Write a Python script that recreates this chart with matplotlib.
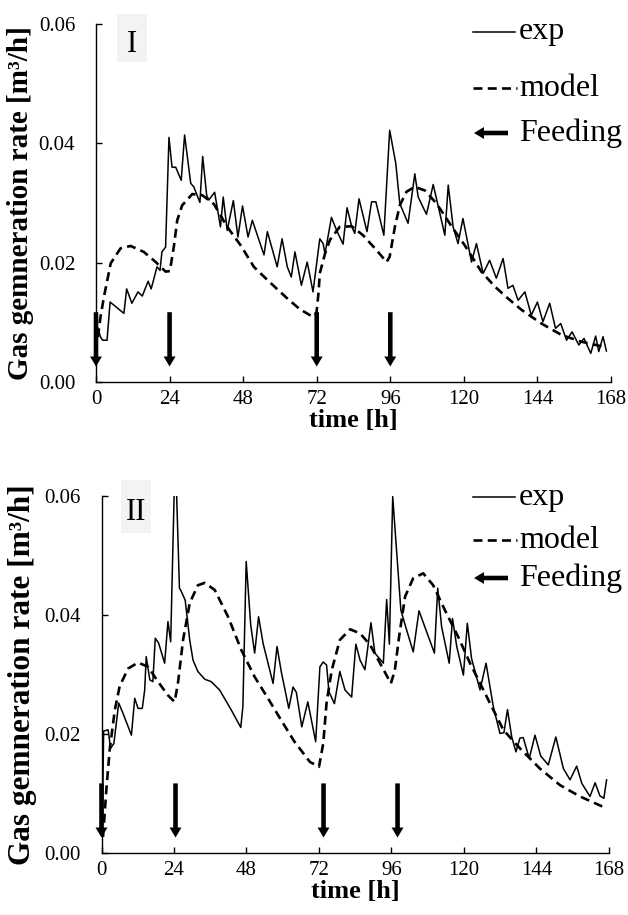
import matplotlib
matplotlib.use("Agg")
import matplotlib.pyplot as plt
from matplotlib.lines import Line2D
from matplotlib.patches import Rectangle, FancyArrowPatch
from matplotlib.ticker import FormatStrFormatter

plt.rcParams['font.family'] = 'Liberation Serif'

# ---- data ----
t_exp_1 = [0.3, 1.5, 2.2, 3.6, 4.6, 9.1, 10.0, 11.7, 13.7, 15.1, 17.0, 18.0, 19.9, 20.9, 21.5, 22.7,
           23.8, 24.8, 26.0, 27.8, 28.9, 30.9, 31.9, 33.9, 34.8, 36.1, 36.8, 38.7, 40.6, 41.5, 42.8,
           44.8, 46.3, 47.8, 49.6, 51.0, 54.8, 55.9, 59.1, 60.7, 62.4, 63.7, 64.9, 67.0, 68.9, 70.8,
           73.0, 74.1, 74.7, 76.8, 78.5, 80.6, 81.9, 83.4, 84.4, 85.8, 88.4, 89.9, 91.3, 93.9, 95.8,
           97.8, 99.1, 101.8, 104.0, 105.1, 107.8, 110.0, 113.8, 114.9, 116.5, 118.1, 119.7, 122.5,
           124.1, 126.3, 128.4, 130.6, 132.8, 134.4, 136.0, 137.7, 139.9, 142.0, 144.0, 145.8, 148.0,
           149.9, 151.6, 153.5, 155.3, 157.5, 159.2, 161.4, 163.0, 164.0, 165.4, 166.5]
exp_1 = [0.0095, 0.0075, 0.007, 0.007, 0.0134, 0.0115, 0.0156, 0.0132, 0.0151, 0.0144, 0.0169, 0.0156,
         0.0193, 0.0187, 0.0218, 0.0226, 0.041, 0.036, 0.036, 0.0338, 0.0414, 0.0333, 0.0327, 0.0301,
         0.0378, 0.0313, 0.0305, 0.0318, 0.026, 0.031, 0.0254, 0.0304, 0.0243, 0.0295, 0.0243, 0.0271,
         0.0213, 0.0252, 0.0193, 0.024, 0.0193, 0.0176, 0.0218, 0.0162, 0.0201, 0.0151, 0.024, 0.0232,
         0.0215, 0.0276, 0.0254, 0.0231, 0.0292, 0.0261, 0.0249, 0.0307, 0.0252, 0.0302, 0.0302, 0.0246,
         0.0422, 0.0366, 0.0299, 0.0266, 0.0349, 0.031, 0.0281, 0.0331, 0.0246, 0.033, 0.026, 0.0232,
         0.0274, 0.0201, 0.0232, 0.0182, 0.0204, 0.0174, 0.0207, 0.0157, 0.0162, 0.0137, 0.0151, 0.0112,
         0.0134, 0.0101, 0.0132, 0.009, 0.0098, 0.007, 0.0084, 0.0062, 0.0073, 0.0048, 0.0077, 0.0051,
         0.0076, 0.0052]

t_mod_1 = [0.6, 1.5, 2.6, 4.8, 8.0, 11.3, 15.6, 19.5, 22.7, 24.1, 25.4, 26.5, 28.1, 31.4, 34.7, 38.5,
           42.8, 47.2, 51.5, 55.9, 62.4, 66.5, 70.8, 71.9, 72.6, 73.0, 74.7, 76.3, 79.5, 83.4, 87.1,
           91.5, 94.8, 95.8, 97.5, 99.1, 101.3, 104.0, 107.3, 111.1, 116.5, 120.3, 125.7, 130.1, 134.4,
           138.8, 145.3, 151.8, 158.0, 166.5]
mod_1 = [0.0075, 0.011, 0.0143, 0.0199, 0.0224, 0.0228, 0.0218, 0.0201, 0.0185, 0.0186, 0.0227, 0.0271,
         0.0296, 0.0315, 0.0313, 0.0298, 0.026, 0.0229, 0.0193, 0.0171, 0.014, 0.0122, 0.0109, 0.0115,
         0.015, 0.0182, 0.0215, 0.0238, 0.026, 0.0261, 0.0246, 0.0221, 0.0201, 0.021, 0.026, 0.0296,
         0.0319, 0.0327, 0.0321, 0.0299, 0.0257, 0.0229, 0.0185, 0.016, 0.014, 0.0121, 0.0098, 0.0079,
         0.0068, 0.0058]

t_exp_2 = [0.3, 0.7, 2.2, 3.0, 4.1, 4.9, 5.7, 7.1, 9.9, 11.0, 12.1, 13.5, 14.3, 14.8, 16.0, 17.0, 17.8,
           18.9, 20.9, 22.0, 22.9, 24.4, 25.8, 26.2, 27.7, 29.2, 30.3, 31.9, 34.2, 36.3, 39.1, 43.0,
           46.1, 46.8, 47.9, 49.4, 50.7, 52.0, 53.5, 56.8, 58.1, 59.5, 62.0, 63.4, 64.5, 66.3, 68.3,
           70.9, 72.3, 73.4, 74.5, 75.3, 77.1, 78.9, 80.6, 82.8, 84.2, 85.6, 87.2, 89.2, 90.5, 93.3,
           94.4, 95.3, 96.4, 99.1, 101.0, 103.2, 105.1, 110.2, 111.3, 112.6, 115.1, 116.2, 117.6,
           119.8, 121.1, 122.5, 125.3, 127.3, 129.7, 131.9, 133.2, 134.4, 135.8, 137.2, 138.5, 139.6,
           141.6, 143.5, 145.4, 147.9, 150.4, 152.9, 155.1, 157.3, 159.0, 161.7, 163.4, 165.0, 166.3,
           167.2]
exp_2 = [0.004, 0.0205, 0.0207, 0.0176, 0.0184, 0.0218, 0.0252, 0.0235, 0.0198, 0.026, 0.0243, 0.0243,
         0.0274, 0.033, 0.0291, 0.0288, 0.0361, 0.0353, 0.0319, 0.0389, 0.0355, 0.068, 0.0445, 0.0442,
         0.0425, 0.0358, 0.0324, 0.0305, 0.0292, 0.0288, 0.0274, 0.024, 0.0211, 0.0246, 0.049, 0.0383,
         0.0336, 0.0397, 0.0352, 0.0285, 0.0347, 0.0305, 0.0243, 0.0279, 0.027, 0.0212, 0.0254, 0.0187,
         0.0313, 0.0321, 0.0316, 0.0271, 0.0251, 0.0305, 0.0274, 0.0262, 0.0351, 0.0324, 0.0308, 0.0387,
         0.0336, 0.0319, 0.0426, 0.0351, 0.0599, 0.0408, 0.0375, 0.0338, 0.0407, 0.0336, 0.0445, 0.038,
         0.0319, 0.0394, 0.0347, 0.0299, 0.0386, 0.0327, 0.0274, 0.0319, 0.0246, 0.0201, 0.0202, 0.0241,
         0.0195, 0.017, 0.0193, 0.0194, 0.0159, 0.0198, 0.0163, 0.0148, 0.0195, 0.0142, 0.0123, 0.0146,
         0.0117, 0.0095, 0.0118, 0.0096, 0.0092, 0.0123]

t_mod_2 = [0.5, 1.6, 2.7, 4.4, 6.0, 8.8, 12.1, 15.4, 18.7, 22.0, 24.2, 25.3, 27.0, 29.2, 31.9, 34.2,
           37.5, 41.9, 46.3, 50.7, 55.1, 59.5, 63.9, 65.1, 69.0, 72.0, 73.4, 74.5, 76.2, 78.9, 82.3,
           85.6, 88.9, 92.2, 95.8, 97.1, 98.5, 100.5, 103.2, 106.5, 109.8, 113.7, 118.1, 122.0, 127.5,
           133.0, 138.5, 145.1, 151.8, 158.4, 167.2]
mod_2 = [0.0027, 0.0106, 0.0173, 0.024, 0.028, 0.031, 0.032, 0.0313, 0.0288, 0.0265, 0.0254, 0.0285,
         0.0358, 0.042, 0.045, 0.0454, 0.0442, 0.0397, 0.0341, 0.0296, 0.026, 0.0223, 0.0187, 0.0179,
         0.0153, 0.0145, 0.0184, 0.0252, 0.0307, 0.0358, 0.0376, 0.0369, 0.035, 0.0319, 0.0285, 0.0307,
         0.0363, 0.0431, 0.0462, 0.047, 0.045, 0.0408, 0.0363, 0.0319, 0.0263, 0.0207, 0.0176, 0.0142,
         0.0114, 0.0095, 0.0075]

feed_1 = [0, 24, 72, 96]
feed_2 = [0, 24.5, 73.5, 98]
panel_names = ["I", "II"]
xticks = [0, 24, 48, 72, 96, 120, 144, 168]
yticks = [0.00, 0.02, 0.04, 0.06]

W, H = 628, 915


def fx(px):
    return px / W


def fy(py):
    return 1 - py / H


fig = plt.figure(figsize=(6.28, 9.15), dpi=100)
ax1 = fig.add_axes([fx(96), fy(382), fx(611) - fx(96), fy(24) - fy(382)])
ax2 = fig.add_axes([fx(101.5), fy(853), fx(609) - fx(101.5), fy(496) - fy(853)])

arrow_style = 'simple,head_length=0.72,head_width=0.86,tail_width=0.33'

panels = [
    (ax1, t_exp_1, exp_1, t_mod_1, mod_1, feed_1, (117, 14, 30, 48), 45, [32, 88, 133], 21, 3),
    (ax2, t_exp_2, exp_2, t_mod_2, mod_2, feed_2, (121, 480, 30, 53), 513, [497, 540, 578], 22.5, 5),
]

for i, (ax, te, ye, tm, ym, feed, box, name_y, leg_y, ylab_size, ylab_pad) in enumerate(panels):
    ax.plot(te, ye, color='black', lw=1.1)
    ax.plot(tm, ym, color='black', lw=1.9, dashes=(3.4, 2.0))
    for t in feed:
        ax.annotate("", xy=(t, 0.0026), xytext=(t, 0.0117),
                    arrowprops=dict(arrowstyle=arrow_style, mutation_scale=10, color='black',
                                    lw=0, shrinkA=0, shrinkB=0),
                    annotation_clip=False)
    ax.set_xlim(0, 168)
    ax.set_ylim(0, 0.06)
    ax.set_xticks(xticks)
    ax.set_yticks(yticks)
    ax.yaxis.set_major_formatter(FormatStrFormatter('%.2f'))
    for s in ['top', 'right']:
        ax.spines[s].set_visible(False)
    for s in ['left', 'bottom']:
        ax.spines[s].set_linewidth(1.0)
    ax.tick_params(axis='both', direction='in', length=4, width=1.0, labelsize=15)
    ax.tick_params(axis='y', pad=15)
    ax.tick_params(axis='x', pad=6)
    ax.set_xlabel("time [h]", fontsize=19, fontweight='bold', labelpad=0)
    ax.set_ylabel("Gas gemneration rate [m³/h]", fontsize=ylab_size, fontweight='bold',
                  labelpad=ylab_pad)

    # panel name in a light grey box
    bx, by, bw, bh = box
    fig.add_artist(Rectangle((fx(bx), fy(by + bh)), bw / W, bh / H, transform=fig.transFigure,
                             facecolor='#f3f3f3', edgecolor='none'))
    fig.text(fx(bx + bw / 2), fy(name_y), panel_names[i], fontsize=22, ha='center', va='center')

    # legend drawn by hand
    fig.add_artist(Line2D([fx(473), fx(515)], [fy(leg_y[0])] * 2, color='black', lw=1.1,
                          transform=fig.transFigure))
    fig.add_artist(Line2D([fx(473), fx(517)], [fy(leg_y[1])] * 2, color='black', lw=1.9,
                          dashes=(3.4, 2.0), transform=fig.transFigure))
    fig.add_artist(FancyArrowPatch((fx(508), fy(leg_y[2])), (fx(474), fy(leg_y[2])),
                                   transform=fig.transFigure, arrowstyle=arrow_style,
                                   mutation_scale=10, color='black', lw=0,
                                   shrinkA=0, shrinkB=0))
    for txt, yy in zip(["exp", "model", "Feeding"], leg_y):
        fig.text(fx(519), fy(yy), txt, fontsize=23, ha='left', va='center')

fig.savefig("out.png", dpi=100)
